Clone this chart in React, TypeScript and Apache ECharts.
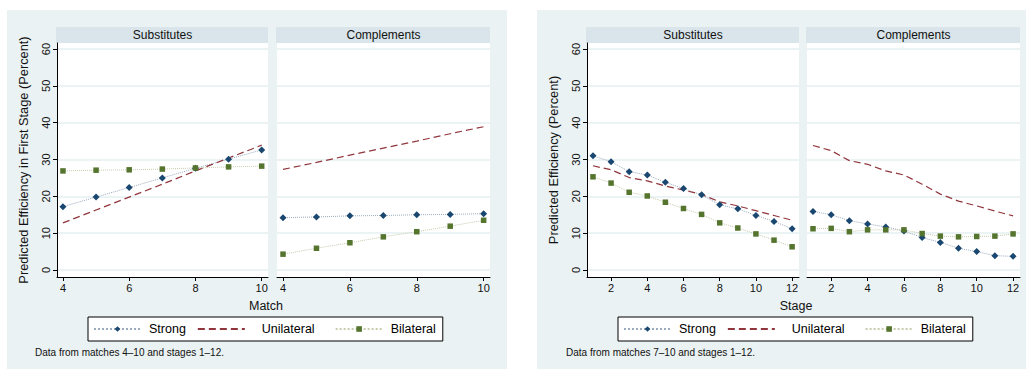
import React, { useEffect, useRef } from "react";
import * as echarts from "echarts";

const matches = [4, 5, 6, 7, 8, 9, 10];
const stages = [1, 2, 3, 4, 5, 6, 7, 8, 9, 10, 11, 12];

const matchSubStrong = [17.2, 19.8, 22.4, 25.0, 27.6, 30.1, 32.6];
const matchSubUnilateral = [12.8, 16.3, 19.8, 23.3, 26.9, 30.4, 33.9];
const matchSubBilateral = [26.9, 27.1, 27.2, 27.4, 27.7, 28.0, 28.2];
const matchCompStrong = [14.2, 14.4, 14.7, 14.8, 15.0, 15.1, 15.3];
const matchCompUnilateral = [27.3, 29.2, 31.2, 33.1, 35.0, 37.0, 38.9];
const matchCompBilateral = [4.3, 5.9, 7.4, 9.0, 10.4, 11.9, 13.5];

const stageSubStrong = [31.0, 29.4, 26.7, 25.8, 23.8, 22.1, 20.4, 17.7, 16.6, 14.8, 13.2, 11.2];
const stageSubUnilateral = [28.3, 27.2, 25.1, 24.2, 22.8, 21.7, 20.5, 18.5, 17.4, 16.1, 14.8, 13.5];
const stageSubBilateral = [25.3, 23.6, 21.1, 20.1, 18.4, 16.7, 15.1, 12.8, 11.4, 9.8, 8.1, 6.3];
const stageCompStrong = [15.9, 15.0, 13.4, 12.5, 11.7, 10.6, 8.8, 7.5, 5.9, 5.0, 3.9, 3.7];
const stageCompUnilateral = [33.8, 32.4, 29.7, 28.7, 26.9, 25.8, 23.3, 20.6, 18.7, 17.4, 16.0, 14.7];
const stageCompBilateral = [11.2, 11.3, 10.4, 10.9, 10.9, 10.9, 9.9, 9.2, 9.0, 9.1, 9.2, 9.8];

const matchTicks = [4, 6, 8, 10];
const stageTicks = [2, 4, 6, 8, 10, 12];
const yTicks = [0, 10, 20, 30, 40, 50, 60];
const panelTitles = ["Substitutes", "Complements"];
const seriesNames = ["Strong", "Unilateral", "Bilateral"];

const FONT = "'Liberation Sans', Arial, Helvetica, sans-serif";
const BG = "#eaf2f3";
const STRIP = "#d9e5ea";
const GRIDLINE = "#e6eff1";

function seriesStyle(name: string) {
  if (name === "Strong") {
    return {
      symbol: "diamond",
      symbolSize: 7,
      itemStyle: { color: "#1a476f" },
      lineStyle: { color: "#9babbe", type: "dotted", width: 1 },
    };
  }
  if (name === "Unilateral") {
    return {
      symbol: "none",
      showSymbol: false,
      symbolSize: 0,
      itemStyle: { color: "#90353b" },
      lineStyle: { color: "#90353b", type: [7, 4], width: 1.2 },
    };
  }
  return {
    symbol: "rect",
    symbolSize: 5.5,
    itemStyle: { color: "#55752f" },
    lineStyle: { color: "#c4cbab", type: "dotted", width: 1 },
  };
}

function makeSeries(name: string, xs: number[], ys: number[], gridIndex: number) {
  return {
    type: "line",
    name,
    xAxisIndex: gridIndex,
    yAxisIndex: gridIndex,
    data: xs.map((x, i) => [x, ys[i]]),
    ...seriesStyle(name),
  };
}

const grids = [
  { left: 57, top: 43, width: 211, height: 234 },
  { left: 277, top: 43, width: 213, height: 234 },
  { left: 587, top: 43, width: 212, height: 234 },
  { left: 807, top: 43, width: 213, height: 234 },
];

export default function App() {
  const ref = useRef<HTMLDivElement>(null);
  useEffect(() => {
    if (!ref.current) return;
    const chart = echarts.init(ref.current, undefined, { renderer: "svg" });

    const xAxes = grids.map((g, i) => {
      const isMatch = i < 2;
      const ticks = isMatch ? matchTicks : stageTicks;
      return {
        type: "value",
        gridIndex: i,
        min: isMatch ? 3.82 : 0.67,
        max: isMatch ? 10.19 : 12.38,
        axisLine: { show: true, onZero: false, lineStyle: { color: "#000", width: 1 } },
        axisTick: { show: true, length: 4, customValues: ticks, lineStyle: { color: "#000" } },
        axisLabel: {
          show: true,
          customValues: ticks,
          margin: 5,
          fontSize: 11,
          color: "#111",
          fontFamily: FONT,
        },
        splitLine: { show: false },
      };
    });

    const yAxes = grids.map((g, i) => {
      const first = i % 2 === 0;
      return {
        type: "value",
        gridIndex: i,
        min: -1.9,
        max: 61.63,
        name: first
          ? i === 0
            ? "Predicted Efficiency in First Stage (Percent)"
            : "Predicted Efficiency (Percent)"
          : "",
        nameLocation: "middle",
        nameRotate: 90,
        nameGap: 27,
        nameTextStyle: { fontSize: 12.8, color: "#111", fontFamily: FONT },
        axisLine: { show: first, lineStyle: { color: "#000", width: 1 } },
        axisTick: { show: first, length: 4, customValues: yTicks, lineStyle: { color: "#000" } },
        axisLabel: {
          show: first,
          customValues: yTicks,
          rotate: 90,
          margin: 6,
          fontSize: 11,
          color: "#111",
          fontFamily: FONT,
        },
        splitLine: { show: true, lineStyle: { color: GRIDLINE, width: 1.5 } },
      };
    });

    const series = [
      makeSeries(seriesNames[0], matches, matchSubStrong, 0),
      makeSeries(seriesNames[1], matches, matchSubUnilateral, 0),
      makeSeries(seriesNames[2], matches, matchSubBilateral, 0),
      makeSeries(seriesNames[0], matches, matchCompStrong, 1),
      makeSeries(seriesNames[1], matches, matchCompUnilateral, 1),
      makeSeries(seriesNames[2], matches, matchCompBilateral, 1),
      makeSeries(seriesNames[0], stages, stageSubStrong, 2),
      makeSeries(seriesNames[1], stages, stageSubUnilateral, 2),
      makeSeries(seriesNames[2], stages, stageSubBilateral, 2),
      makeSeries(seriesNames[0], stages, stageCompStrong, 3),
      makeSeries(seriesNames[1], stages, stageCompUnilateral, 3),
      makeSeries(seriesNames[2], stages, stageCompBilateral, 3),
    ];

    const legendBase = (left: number) => ({
      left,
      top: 317,
      orient: "horizontal",
      itemWidth: 47,
      itemHeight: 7,
      itemGap: 11,
      backgroundColor: "#fff",
      borderColor: "#000",
      borderWidth: 1,
      borderRadius: 0,
      padding: [5, 7, 5, 5],
      selectedMode: false,
      textStyle: { fontSize: 12.5, color: "#000", fontFamily: FONT, lineHeight: 14 },
      data: [
        { name: seriesNames[0], textStyle: { padding: [0, 0, 0, 3] } },
        {
          name: seriesNames[1],
          itemStyle: { opacity: 0 },
          textStyle: { padding: [0, 9, 0, 12] },
        },
        { name: seriesNames[2], textStyle: { padding: [0, 0, 0, 3] } },
      ],
    });

    const graphic: any[] = [
      { type: "rect", z: -10, shape: { x: 7, y: 10, width: 500, height: 359 }, style: { fill: BG } },
      { type: "rect", z: -10, shape: { x: 537, y: 10, width: 489, height: 359 }, style: { fill: BG } },
    ];
    grids.forEach((g, i) => {
      graphic.push({
        type: "rect",
        z: -5,
        shape: { x: g.left - 1, y: 27, width: g.width + 1, height: 16 },
        style: { fill: STRIP },
      });
      graphic.push({
        type: "text",
        z: 5,
        x: g.left + g.width / 2,
        y: 35,
        style: {
          text: panelTitles[i % 2],
          fontSize: 12,
          fontFamily: FONT,
          fill: "#111",
          align: "center",
          verticalAlign: "middle",
        },
      });
    });
    graphic.push(
      {
        type: "text",
        x: 266,
        y: 306,
        style: { text: "Match", fontSize: 12.5, fontFamily: FONT, fill: "#111", align: "center", verticalAlign: "middle" },
      },
      {
        type: "text",
        x: 796,
        y: 306,
        style: { text: "Stage", fontSize: 12.5, fontFamily: FONT, fill: "#111", align: "center", verticalAlign: "middle" },
      },
      {
        type: "text",
        x: 35,
        y: 352,
        style: { text: "Data from matches 4–10 and stages 1–12.", fontSize: 10, fontFamily: FONT, fill: "#111", align: "left", verticalAlign: "middle" },
      },
      {
        type: "text",
        x: 566,
        y: 352,
        style: { text: "Data from matches 7–10 and stages 1–12.", fontSize: 10, fontFamily: FONT, fill: "#111", align: "left", verticalAlign: "middle" },
      }
    );

    chart.setOption({
      animation: false,
      backgroundColor: "#fff",
      textStyle: { fontFamily: FONT },
      grid: grids.map((g) => ({ ...g, show: true, backgroundColor: "#fff", borderWidth: 0, containLabel: false })),
      xAxis: xAxes,
      yAxis: yAxes,
      legend: [legendBase(88), legendBase(618)],
      graphic,
      series,
    });
    return () => chart.dispose();
  }, []);
  return (
    <div
      ref={ref}
      style={{ position: "absolute", left: 0, top: 0, width: 1026, height: 369 }}
    />
  );
}
